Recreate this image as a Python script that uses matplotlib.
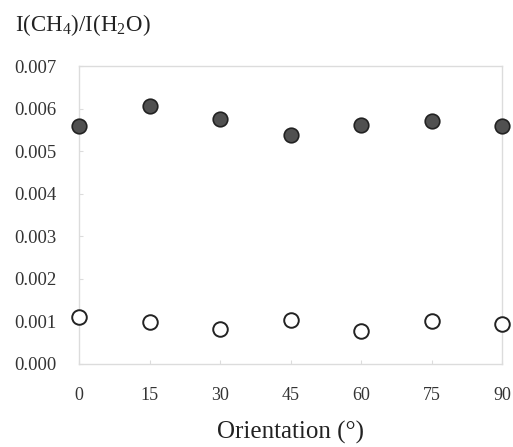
import matplotlib
matplotlib.use("Agg")
import matplotlib.pyplot as plt

plt.rcParams['font.family'] = ['Liberation Serif', 'DejaVu Serif']
plt.rcParams['mathtext.fontset'] = 'custom'
plt.rcParams['mathtext.rm'] = 'Liberation Serif'

# data
orientation = [0, 15, 30, 45, 60, 75, 90]
filled = [0.00559, 0.00606, 0.00575, 0.00538, 0.00561, 0.00570, 0.00559]
hollow = [0.00110, 0.00099, 0.00082, 0.00103, 0.00077, 0.00101, 0.00094]
yticks = [0.000, 0.001, 0.002, 0.003, 0.004, 0.005, 0.006, 0.007]

fig = plt.figure(figsize=(5.13, 4.47), dpi=100)
ax = fig.add_axes([0.154, 0.186, 0.825, 0.666])

ax.scatter(orientation, filled, s=110, facecolor='#505050', edgecolor='#222222',
           linewidth=1.2, clip_on=False, zorder=3)
ax.scatter(orientation, hollow, s=110, facecolor='white', edgecolor='#222222',
           linewidth=1.4, clip_on=False, zorder=3)

ax.set_xlim(0, 90)
ax.set_ylim(0, 0.007)
ax.set_xticks(orientation)
ax.set_yticks(yticks)
ax.set_yticklabels(['%.3f' % v for v in yticks])

for sp in ax.spines.values():
    sp.set_color('#dcdcdc')
    sp.set_linewidth(1.0)
ax.tick_params(axis='both', length=3, color='#dcdcdc', labelcolor='#333333',
               direction='in')
ax.tick_params(axis='x', pad=17, labelsize=13)
ax.tick_params(axis='y', pad=16, labelsize=13.5)

# axis titles placed as figure text
fig.text(0.566, 0.032, 'Orientation (°)', fontsize=18, color='#222222',
         ha='center', va='center')
fig.text(0.029, 0.944, 'I(CH$_4$)/I(H$_2$O)', fontsize=16.5, color='#222222',
         ha='left', va='center')

fig.savefig('out.png', dpi=100)
